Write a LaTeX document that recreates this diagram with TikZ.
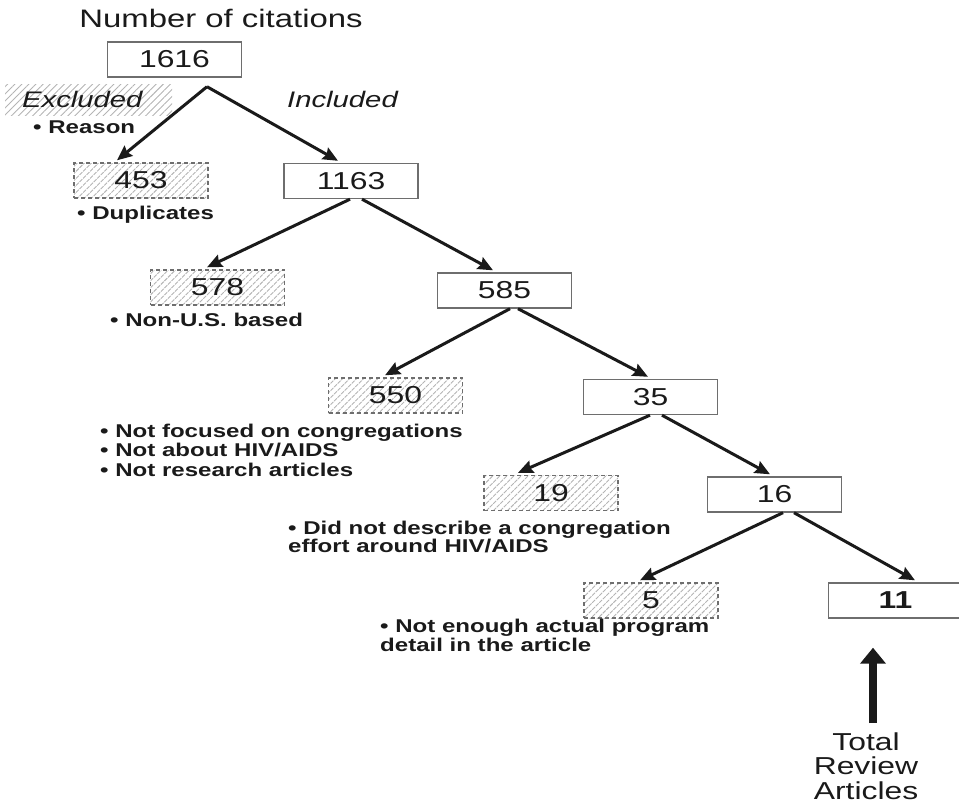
\documentclass[tikz,border=0pt]{standalone}
\usepackage{fontspec}
\setmainfont{Liberation Sans}[FakeStretch=1.3]
\usetikzlibrary{arrows.meta,patterns.meta}
\definecolor{boxgray}{HTML}{6E6E6E}
\definecolor{hatch}{HTML}{B4B4B4}
\definecolor{ink}{HTML}{1A1A1A}
\begin{document}
\begin{tikzpicture}[x=1pt,y=-1pt,
  inc/.style={draw=boxgray, line width=1.4pt, minimum width=134pt, minimum height=35pt, inner sep=0pt, font=\fontsize{24.5}{26}\selectfont, text=ink},
  exc/.style={inc, dash pattern=on 4pt off 3pt, pattern={Lines[angle=45,distance=5pt,line width=0.9pt]}, pattern color=hatch},
  reason/.style={font=\bfseries\fontsize{18.5}{16.5}\selectfont, text=ink, anchor=base west, align=left, inner sep=0pt},
  big/.style={font=\fontsize{24.5}{25}\selectfont, text=ink, inner sep=0pt},
  arr/.style={line width=3pt, draw=ink, -{Stealth[length=15pt,width=13pt,inset=2pt]}}
]
\useasboundingbox (0,0) rectangle (959,806);
\clip (0,0) rectangle (959,806);

% legend
\path[pattern={Lines[angle=45,distance=5pt,line width=0.9pt]}, pattern color=hatch] (5,84) rectangle (172,115);
\node[big, anchor=base, font=\fontsize{25.3}{26}\selectfont] (title) at (221,27) {Number of citations};
\node[big, anchor=base west, font=\itshape\fontsize{22.5}{25}\selectfont] (excl) at (22,107) {Excluded};
\node[big, anchor=base west, font=\itshape\fontsize{22.5}{25}\selectfont] (incl) at (287,107) {Included};
\node[reason] (rreason) at (33,133) {• Reason};

% boxes
\node[inc] (n1616) at (174.5,59.5) {1616};
\node[exc] (n453) at (141,180.5) {453};
\node[inc] (n1163) at (351,181) {1163};
\node[exc] (n578) at (217.5,287.5) {578};
\node[inc] (n585) at (504.5,290.5) {585};
\node[exc] (n550) at (395.5,395.5) {550};
\node[inc] (n35) at (650.5,397) {35};
\node[exc] (n19) at (551,493) {19};
\node[inc] (n16) at (774.5,494.5) {16};
\node[exc] (n5) at (651,600.5) {5};
\node[inc, font=\bfseries\fontsize{24.5}{26}\selectfont] (n11) at (895.5,600.5) {11};

% reasons (base anchor = last line baseline)
\node[reason] (r453) at (77,219) {• Duplicates};
\node[reason] (r578) at (110,326) {• Non-U.S. based};
\node[reason, font=\bfseries\fontsize{18.5}{19.5}\selectfont] (r550) at (100,476) {• Not focused on congregations\\• Not about HIV/AIDS\\• Not research articles};
\node[reason] (r19) at (288,552.5) {• Did not describe a congregation\\effort around HIV/AIDS};
\node[reason] (r5) at (380,651) {• Not enough actual program\\detail in the article};

% total label
\node[big, anchor=base, align=center, font=\fontsize{24.5}{24.5}\selectfont] (total) at (866,799) {Total\\Review\\Articles};

% arrows
\coordinate (apex) at ([shift={(32.5pt,-9pt)}]n1616.south);
\draw[arr] (apex) -- ([shift={(-24pt,2pt)}]n453.north);
\draw[arr] (apex) -- ([shift={(-13pt,2pt)}]n1163.north);
\draw[arr] ([xshift=-1pt]n1163.south) -- ([shift={(-10.5pt,2pt)}]n578.north);
\draw[arr] ([xshift=11pt]n1163.south) -- ([shift={(-11.5pt,2pt)}]n585.north);
\draw[arr] ([xshift=5.5pt]n585.south) -- ([shift={(-10.5pt,2pt)}]n550.north);
\draw[arr] ([xshift=13.5pt]n585.south) -- ([shift={(-2.5pt,2pt)}]n35.north);
\draw[arr] ([xshift=-0.5pt]n35.south) -- ([shift={(-33pt,2pt)}]n19.north);
\draw[arr] ([xshift=11.5pt]n35.south) -- ([shift={(-4.5pt,2pt)}]n16.north);
\draw[arr] ([xshift=8.5pt]n16.south) -- ([shift={(-11pt,2pt)}]n5.north);
\draw[arr] ([xshift=19.5pt]n16.south) -- ([shift={(19.5pt,2pt)}]n11.north);

% total arrow
\coordinate (ttail) at (873,723);
\draw[line width=8pt, draw=ink, -{Triangle[length=16pt,width=25pt]}] (ttail) -- ([shift={(-22.5pt,-29pt)}]n11.south);
\end{tikzpicture}
\end{document}
